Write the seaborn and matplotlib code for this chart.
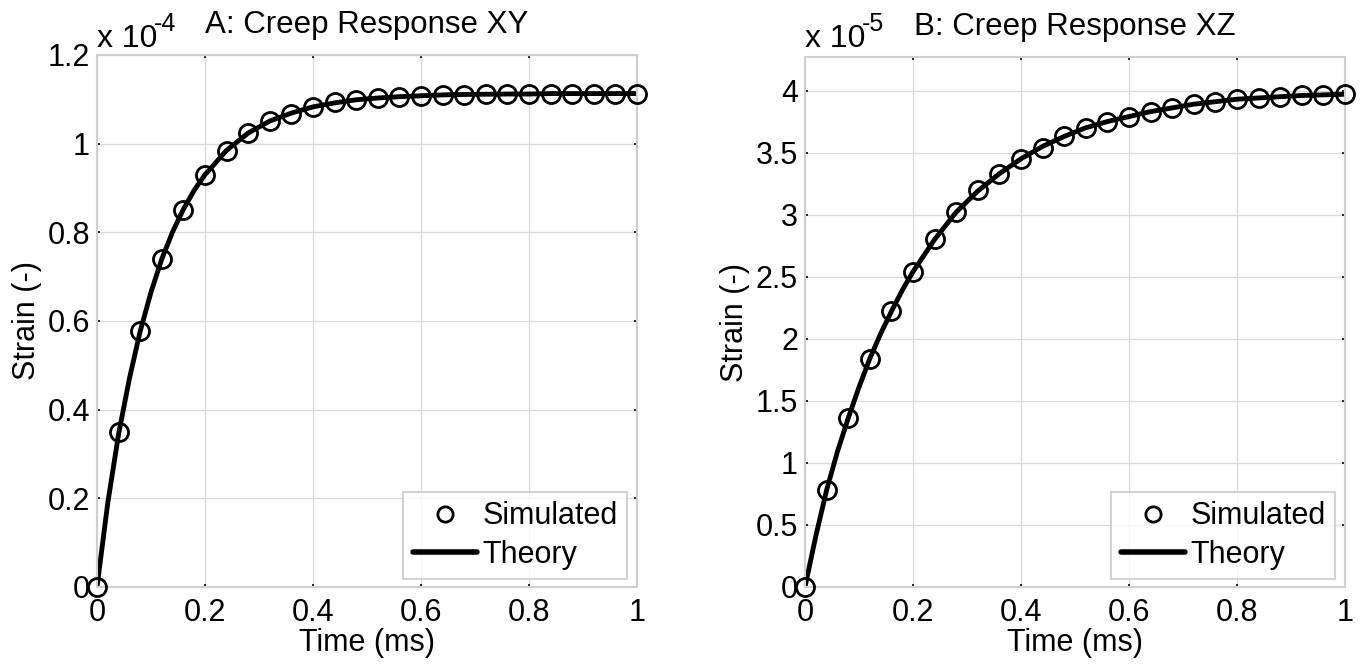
import numpy as np
import pandas as pd
import matplotlib
matplotlib.use("Agg")
import matplotlib.pyplot as plt
from matplotlib.lines import Line2D
import seaborn as sns

# ---- data (strain in units of the axis multiplier) ----
time_sim = [0.00, 0.04, 0.08, 0.12, 0.16, 0.20, 0.24, 0.28, 0.32, 0.36, 0.40, 0.44, 0.48,
            0.52, 0.56, 0.60, 0.64, 0.68, 0.72, 0.76, 0.80, 0.84, 0.88, 0.92, 0.96, 1.00]
sim_xy = [0.000, 0.350, 0.577, 0.740, 0.850, 0.930, 0.984, 1.024, 1.051, 1.067, 1.083, 1.094,
          1.099, 1.103, 1.105, 1.107, 1.109, 1.110, 1.111, 1.112, 1.112, 1.113, 1.113, 1.113,
          1.113, 1.113]
sim_xz = [0.00, 0.78, 1.36, 1.84, 2.22, 2.54, 2.80, 3.02, 3.20, 3.33, 3.45, 3.54, 3.63, 3.70,
          3.75, 3.79, 3.83, 3.86, 3.89, 3.91, 3.93, 3.94, 3.95, 3.96, 3.965, 3.97]

time_th = [0.00, 0.02, 0.04, 0.06, 0.08, 0.10, 0.12, 0.14, 0.16, 0.18, 0.20, 0.24, 0.28, 0.32,
           0.36, 0.40, 0.44, 0.48, 0.52, 0.56, 0.60, 0.64, 0.68, 0.72, 0.76, 0.80, 0.84, 0.88,
           0.92, 0.96, 1.00]
th_xy = [0.000, 0.190, 0.345, 0.470, 0.577, 0.665, 0.740, 0.801, 0.852, 0.895, 0.930, 0.985,
         1.024, 1.051, 1.069, 1.083, 1.092, 1.099, 1.103, 1.106, 1.108, 1.110, 1.111, 1.1115,
         1.112, 1.112, 1.113, 1.113, 1.113, 1.113, 1.113]
th_xz = [0.00, 0.41, 0.78, 1.09, 1.36, 1.61, 1.84, 2.04, 2.22, 2.39, 2.54, 2.80, 3.02, 3.19,
         3.33, 3.45, 3.55, 3.63, 3.70, 3.75, 3.79, 3.83, 3.86, 3.89, 3.91, 3.93, 3.94, 3.95,
         3.96, 3.965, 3.97]

titles = ["A: Creep Response XY", "B: Creep Response XZ"]
multiplier_base = "x 10"
multiplier_exp = ["-4", "-5"]
yticks_list = [[0, 0.2, 0.4, 0.6, 0.8, 1.0, 1.2], [0, 0.5, 1, 1.5, 2, 2.5, 3, 3.5, 4]]
ytick_labels = [["0", "0.2", "0.4", "0.6", "0.8", "1", "1.2"],
                ["0", "0.5", "1", "1.5", "2", "2.5", "3", "3.5", "4"]]
ylims = [(0, 1.2), (0, 4.27)]
xticks = [0, 0.2, 0.4, 0.6, 0.8, 1.0]
xtick_labels = ["0", "0.2", "0.4", "0.6", "0.8", "1"]

sns.set_theme(style="white")
plt.rcParams["font.family"] = ["Liberation Sans", "DejaVu Sans"]
plt.rcParams["text.color"] = "black"
plt.rcParams["axes.labelcolor"] = "black"
plt.rcParams["xtick.color"] = "black"
plt.rcParams["ytick.color"] = "black"

W, H = 1368, 667
fig = plt.figure(figsize=(W / 100, H / 100), dpi=100)
fig.patch.set_facecolor("white")
ax_px = [(97, 55, 637, 587), (805, 57, 1345, 587)]  # left, top, right, bottom

sims = [sim_xy, sim_xz]
ths = [th_xy, th_xz]

for i in range(2):
    l, t, r, b = ax_px[i]
    ax = fig.add_axes([l / W, (H - b) / H, (r - l) / W, (b - t) / H])
    df_th = pd.DataFrame({"t": time_th, "s": ths[i]})
    df_sim = pd.DataFrame({"t": time_sim, "s": sims[i]})
    sns.lineplot(data=df_th, x="t", y="s", ax=ax, color="black", linewidth=3.5,
                 zorder=2, legend=False)
    ax.plot(df_sim["t"], df_sim["s"], linestyle="none", marker="o", markersize=13,
            markerfacecolor="none", markeredgecolor="black", markeredgewidth=2.0,
            zorder=3, clip_on=False)
    ax.set_xlim(0, 1)
    ax.set_ylim(*ylims[i])
    ax.set_xticks(xticks)
    ax.set_xticklabels(xtick_labels)
    ax.set_yticks(yticks_list[i])
    ax.set_yticklabels(ytick_labels[i])
    ax.grid(True, color="#d9d9d9", linewidth=0.9)
    ax.set_axisbelow(True)
    for sp in ax.spines.values():
        sp.set_color("#cfcfcf")
        sp.set_linewidth(1.5)
    ax.tick_params(direction="in", length=2.5, width=1.2, color="black",
                   labelsize=22, top=True, right=True, bottom=True, left=True)
    ax.tick_params(axis="x", pad=8)
    ax.tick_params(axis="y", pad=5)
    ax.set_xlabel("Time (ms)", fontsize=22, labelpad=0)
    ax.set_ylabel("Strain (-)", fontsize=22, labelpad=4)
    ax.set_title(titles[i], fontsize=22.5, pad=16)
    fig.text(l / W, 1 - 47 / H, multiplier_base, fontsize=23, ha="left", va="baseline")
    fig.text((l + 57) / W, 1 - 31 / H, multiplier_exp[i], fontsize=18, ha="left",
             va="baseline")
    h_sim = Line2D([], [], linestyle="none", marker="o", markersize=11,
                   markerfacecolor="none", markeredgecolor="black", markeredgewidth=2)
    h_th = Line2D([], [], color="black", linewidth=4)
    leg = ax.legend([h_sim, h_th], ["Simulated", "Theory"], loc="lower right",
                    fontsize=22, frameon=True, fancybox=False, borderpad=0.3,
                    handlelength=2.1, handletextpad=0.2, labelspacing=0.28,
                    borderaxespad=0.0, bbox_to_anchor=(0.982, 0.015))
    leg.get_frame().set_edgecolor("#bdbdbd")
    leg.get_frame().set_linewidth(1.2)

fig.savefig("out.png", dpi=100, facecolor="white")
